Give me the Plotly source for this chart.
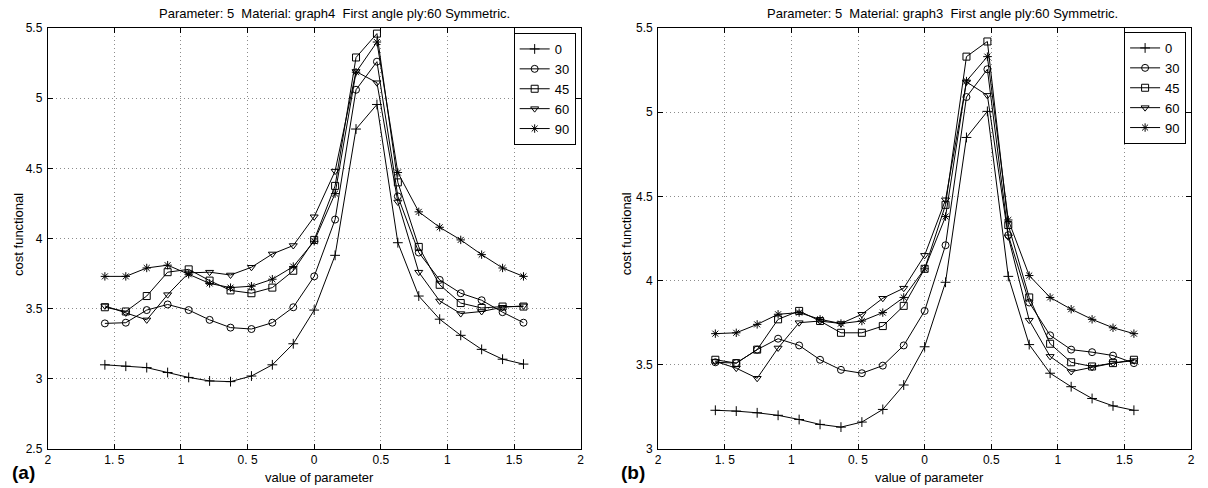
import plotly.graph_objects as go

# ---------------- data ----------------
x_vals = [-1.571, -1.414, -1.257, -1.100, -0.942, -0.785, -0.628, -0.471, -0.314, -0.157,
          0.0, 0.157, 0.314, 0.471, 0.628, 0.785, 0.942, 1.100, 1.257, 1.414, 1.571]

series_names = ["0", "30", "45", "60", "90"]

# panel (a): graph4
a_0 = [3.10, 3.09, 3.08, 3.045, 3.01, 2.985, 2.98, 3.02, 3.10, 3.25, 3.49, 3.88, 4.78, 4.955,
       3.97, 3.59, 3.425, 3.31, 3.21, 3.14, 3.105]
a_30 = [3.395, 3.40, 3.49, 3.53, 3.49, 3.42, 3.365, 3.355, 3.40, 3.51, 3.73, 4.135, 5.06, 5.26,
        4.30, 3.90, 3.705, 3.61, 3.56, 3.475, 3.40]
a_45 = [3.51, 3.48, 3.59, 3.76, 3.78, 3.70, 3.63, 3.61, 3.65, 3.77, 3.99, 4.375, 5.29, 5.46,
        4.40, 3.94, 3.67, 3.54, 3.505, 3.515, 3.515]
a_60 = [3.52, 3.47, 3.42, 3.60, 3.755, 3.76, 3.74, 3.795, 3.89, 3.95, 4.155, 4.48, 5.19, 5.11,
        4.26, 3.76, 3.555, 3.465, 3.48, 3.51, 3.52]
a_90 = [3.73, 3.73, 3.79, 3.81, 3.745, 3.68, 3.65, 3.66, 3.71, 3.80, 3.98, 4.32, 5.185, 5.40,
        4.47, 4.19, 4.08, 3.99, 3.885, 3.79, 3.73]

# panel (b): graph3
b_0 = [3.23, 3.225, 3.215, 3.20, 3.175, 3.146, 3.13, 3.16, 3.235, 3.38, 3.607, 3.99, 4.85, 5.005,
       4.025, 3.62, 3.45, 3.37, 3.30, 3.256, 3.23]
b_30 = [3.515, 3.51, 3.59, 3.655, 3.615, 3.53, 3.47, 3.45, 3.495, 3.615, 3.82, 4.21, 5.09, 5.255,
        4.27, 3.87, 3.675, 3.59, 3.575, 3.555, 3.51]
b_45 = [3.53, 3.51, 3.59, 3.77, 3.82, 3.76, 3.69, 3.69, 3.73, 3.85, 4.07, 4.45, 5.33, 5.42,
        4.33, 3.90, 3.625, 3.515, 3.49, 3.51, 3.53]
b_60 = [3.52, 3.48, 3.42, 3.60, 3.75, 3.76, 3.745, 3.80, 3.895, 3.955, 4.15, 4.48, 5.18, 5.10,
        4.26, 3.765, 3.55, 3.46, 3.485, 3.51, 3.525]
b_90 = [3.685, 3.69, 3.74, 3.80, 3.81, 3.77, 3.745, 3.76, 3.81, 3.90, 4.07, 4.38, 5.185, 5.33,
        4.36, 4.03, 3.90, 3.83, 3.77, 3.72, 3.685]

x_tickvals = [-2, -1.5, -1, -0.5, 0, 0.5, 1, 1.5, 2]
x_ticktext = ["2", "1. 5", "1", "0. 5", "0", "0.5", "1", "1.5", "2"]
ya_tickvals = [2.5, 3, 3.5, 4, 4.5, 5, 5.5]
ya_ticktext = ["2.5", "3", "3.5", "4", "4.5", "5", "5.5"]
yb_tickvals = [3, 3.5, 4, 4.5, 5, 5.5]
yb_ticktext = ["3", "3.5", "4", "4.5", "5", "5.5"]

title_a = "Parameter: 5  Material: graph4  First angle ply:60 Symmetric."
title_b = "Parameter: 5  Material: graph3  First angle ply:60 Symmetric."
x_title = "value of parameter"
y_title = "cost functional"
panel_labels = ["(a)", "(b)"]

symbols = ["cross-thin-open", "circle-open", "square-open", "triangle-down-open", "asterisk-open"]

# ---------------- figure ----------------
W, H = 1208, 488
ML, MR, MT, MB = 0, 0, 28, 39
PH = H - MT - MB


def px_x(px):
    return px / W


def px_y(py):
    return (H - MB - py) / PH


FONT = "Liberation Sans, Arial, Helvetica, sans-serif"

fig = go.Figure()

for name, ys, sym in zip(series_names, [a_0, a_30, a_45, a_60, a_90], symbols):
    fig.add_trace(go.Scatter(
        x=x_vals, y=ys, name=name, mode="lines+markers",
        xaxis="x", yaxis="y", legend="legend",
        line=dict(color="black", width=1),
        marker=dict(symbol=sym, size=7, color="black",
                    line=dict(color="black", width=1)),
    ))

for name, ys, sym in zip(series_names, [b_0, b_30, b_45, b_60, b_90], symbols):
    fig.add_trace(go.Scatter(
        x=x_vals, y=ys, name=name, mode="lines+markers",
        xaxis="x2", yaxis="y2", legend="legend2",
        line=dict(color="black", width=1),
        marker=dict(symbol=sym, size=7, color="black",
                    line=dict(color="black", width=1)),
    ))

axis_common = dict(
    showline=True, linecolor="black", linewidth=1, mirror="ticks",
    ticks="inside", ticklen=5, tickcolor="black", tickwidth=1,
    showgrid=True, gridcolor="#8c8c8c", gridwidth=1, griddash="1px,3px",
    zeroline=False, tickfont=dict(family=FONT, size=12, color="black"),
)

legend_common = dict(xanchor="right", yanchor="top",
                     bordercolor="black", borderwidth=1, bgcolor="white",
                     font=dict(family=FONT, size=13, color="black"), itemwidth=30,
                     tracegroupgap=0)

fig.update_layout(
    width=W, height=H,
    margin=dict(l=ML, r=MR, t=MT, b=MB),
    paper_bgcolor="white", plot_bgcolor="white",
    font=dict(family=FONT, size=12, color="black"),
    xaxis=dict(domain=[px_x(45), px_x(581)], range=[-2, 2], anchor="y",
               tickmode="array", tickvals=x_tickvals, ticktext=x_ticktext, **axis_common),
    yaxis=dict(domain=[0, 1], range=[2.5, 5.5], anchor="x", ticklabelstandoff=2,
               tickmode="array", tickvals=ya_tickvals, ticktext=ya_ticktext, **axis_common),
    xaxis2=dict(domain=[px_x(659), px_x(1195)], range=[-2, 2], anchor="y2",
                tickmode="array", tickvals=x_tickvals, ticktext=x_ticktext, **axis_common),
    yaxis2=dict(domain=[0, 1], range=[3, 5.5], anchor="x2", ticklabelstandoff=2,
                tickmode="array", tickvals=yb_tickvals, ticktext=yb_ticktext, **axis_common),
    legend=dict(x=px_x(576), y=px_y(33), **legend_common),
    legend2=dict(x=px_x(1190), y=px_y(32), **legend_common),
    showlegend=True,
)

ann = []
for cx, ttl in [(333, title_a), (945, title_b)]:
    ann.append(dict(text=ttl.replace("  ", " \u00a0"), x=px_x(cx), y=px_y(14),
                    xref="paper", yref="paper",
                    xanchor="center", yanchor="middle", showarrow=False,
                    font=dict(family=FONT, size=13, color="black")))
for cx in [318, 932]:
    ann.append(dict(text=x_title, x=px_x(cx), y=px_y(477), xref="paper", yref="paper",
                    xanchor="center", yanchor="middle", showarrow=False,
                    font=dict(family=FONT, size=13, color="black")))
for lx in [16, 628]:
    ann.append(dict(text=y_title, x=px_x(lx), y=px_y(234), xref="paper", yref="paper",
                    xanchor="center", yanchor="middle", showarrow=False, textangle=-90,
                    font=dict(family=FONT, size=13, color="black")))
for lx, lab in zip([21, 634], panel_labels):
    ann.append(dict(text="<b>" + lab + "</b>", x=px_x(lx), y=px_y(472), xref="paper", yref="paper",
                    xanchor="center", yanchor="middle", showarrow=False,
                    font=dict(family=FONT, size=19, color="black")))
fig.update_layout(annotations=ann)

fig.write_html("out.html", config={"displayModeBar": False},
               post_script="document.body.style.margin='0px';")
